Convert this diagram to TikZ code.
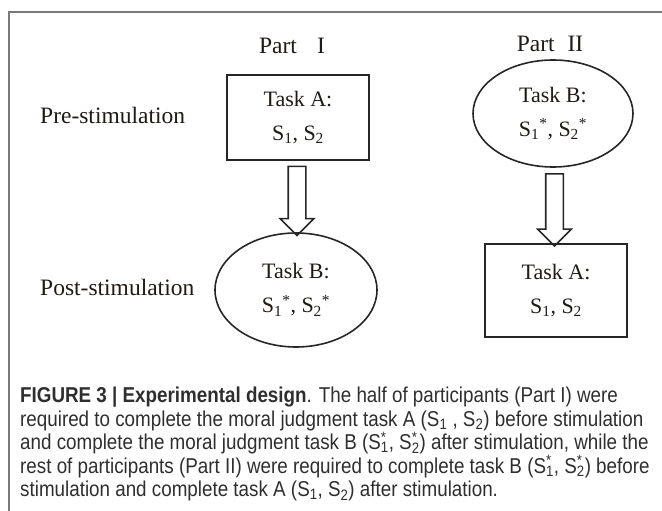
\documentclass[tikz,border=0pt]{standalone}
\usepackage{fontspec}
\setmainfont{Liberation Serif}
\newfontfamily\capfont[FakeStretch=0.875]{Liberation Sans}
\usepackage{tikz}
\usetikzlibrary{shapes.geometric, shapes.arrows, calc, positioning}
\definecolor{colorFrame}{HTML}{7A7A7A}
\definecolor{colorLine}{HTML}{262626}
\definecolor{colorText}{HTML}{1E1A16}
\definecolor{colorCaption}{HTML}{2E2E2E}
\newcommand{\Splain}[1]{S\textsubscript{#1}}
\newcommand{\Sstar}[1]{S\textsubscript{#1}\textsuperscript{*}}
\newcommand{\Sstack}[1]{S\rlap{\textsuperscript{*}}\textsubscript{#1}}
\tikzset{
  taskbox/.style={draw=colorLine, line width=1.6pt, rectangle, minimum width=142pt, inner sep=0pt,
    align=center, text=colorText, font=\fontsize{22}{34}\selectfont},
  taskoval/.style={draw=colorLine, line width=1.6pt, ellipse, inner sep=0pt,
    align=center, text=colorText, font=\fontsize{22}{34}\selectfont},
  phase/.style={inner sep=0pt, text=colorText, font=\fontsize{23.5}{28}\selectfont},
  blockarrow/.style={draw=colorLine, line width=1.6pt, single arrow, shape border rotate=270,
    inner sep=8pt, single arrow head extend=8pt, single arrow tip angle=90}
}
\begin{document}
\begin{tikzpicture}[x=1pt, y=-1pt]
\useasboundingbox (0,0) rectangle (662,511);
% frame round the figure
\draw[colorFrame, line width=1.5pt] (662,12) -- (9,12) -- (9,511);

% column heads
\node[phase] (partI) at (292,46) {Part\hspace{20pt}I};
\node[phase] (partII) at (550,44) {Part\hspace{13pt}II};

% row heads
\node[phase, anchor=west] (pre) at (40,115) {Pre-stimulation};
\node[phase, anchor=west] (post) at (40,287) {Post-stimulation};

% Part I
\node[taskbox, minimum height=85pt] (taskAI) at (298,117.5) {Task A:\\\Splain{1}, \Splain{2}};
\node[taskoval, minimum width=162pt, minimum height=114pt] (taskBI) at (296,290) {Task B:\\\Sstar{1}, \Sstar{2}};

% Part II
\node[taskoval, minimum width=160pt, minimum height=107pt] (taskBII) at (553,113.5) {Task B:\\\Sstar{1}, \Sstar{2}};
\node[taskbox, minimum height=93pt] (taskAII) at (556,290.5) {Task A:\\\Splain{1}, \Splain{2}};

% block arrows
\node[blockarrow, minimum height=69pt] (arrI) at ($(taskAI.south)!0.5!(taskBI.north)$) {};
\node[blockarrow, minimum height=72pt] (arrII) at ($(taskBII.south)!0.5!(taskAII.north)$) {};

% caption
\node[anchor=north west, align=left, inner sep=0pt, text=colorCaption,
  font=\capfont\fontsize{21.5}{23.5}\selectfont] (caption) at (20,387)
  {\textbf{FIGURE 3 | Experimental design}. The half of participants (Part I) were\\
   required to complete the moral judgment task A (\Splain{1} , \Splain{2}) before stimulation\\
   and complete the moral judgment task B (\Sstack{1}, \Sstack{2}) after stimulation, while the\\
   rest of participants (Part II) were required to complete task B (\Sstack{1}, \Sstack{2}) before\\
   stimulation and complete task A (\Splain{1}, \Splain{2}) after stimulation.};
\end{tikzpicture}
\end{document}
